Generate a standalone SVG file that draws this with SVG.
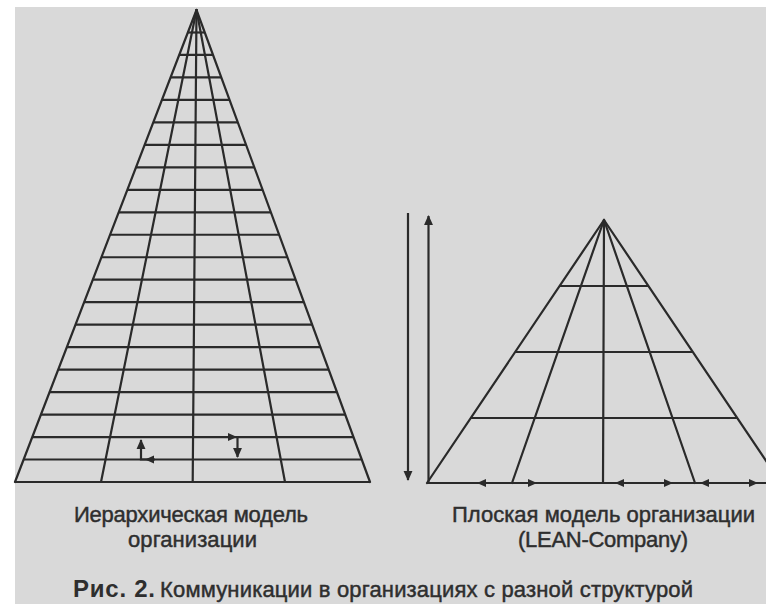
<svg xmlns="http://www.w3.org/2000/svg" width="766" height="604" viewBox="0 0 766 604">
  <style>
    .ln { stroke: #2a2a2a; stroke-width: 2.2; fill: none; stroke-linecap: round; }
    .hl { stroke: #2a2a2a; stroke-width: 2.2; fill: none; }
    .ah { fill: #2a2a2a; stroke: none; }
    .lbl { font-family: "Liberation Sans", Arial, sans-serif; font-size: 22px; fill: #2e2e2e; stroke: #2e2e2e; stroke-width: 0.45; }
    .cap { font-family: "Liberation Sans", Arial, sans-serif; font-size: 22px; fill: #2e2e2e; stroke: #2e2e2e; stroke-width: 0.45; }
    .capb { font-family: "Liberation Sans", Arial, sans-serif; font-size: 24px; font-weight: bold; fill: #2e2e2e; }
  </style>
  <defs>
    <marker id="arr" viewBox="0 0 10 10" refX="9" refY="5" markerWidth="4.5" markerHeight="4.5" orient="auto" markerUnits="strokeWidth">
      <path d="M0,0.5 L10,5 L0,9.5 Z" fill="#2a2a2a"/>
    </marker>
    <path id="head" d="M0,0 L-9,-4 L-9,4 Z"/>
  </defs>

  <rect x="0" y="0" width="766" height="604" fill="#ffffff"/>
  <rect x="15" y="7" width="751" height="597" fill="#d9d9d9"/>

  <g id="hierarchy-pyramid">
    <line class="ln" x1="196.5" y1="10" x2="15" y2="482"/>
    <line class="ln" x1="196.5" y1="10" x2="370" y2="482"/>
    <line class="ln" x1="196.5" y1="10" x2="101" y2="482"/>
    <line class="ln" x1="196.5" y1="10" x2="192.7" y2="482"/>
    <line class="ln" x1="196.5" y1="10" x2="285" y2="482"/>
    <line class="hl" x1="187.86" y1="32.5" x2="204.76" y2="32.5"/>
    <line class="hl" x1="179.22" y1="54.95" x2="213.02" y2="54.95"/>
    <line class="hl" x1="170.57" y1="77.43" x2="221.29" y2="77.43"/>
    <line class="hl" x1="161.93" y1="99.9" x2="229.55" y2="99.9"/>
    <line class="hl" x1="153.29" y1="122.38" x2="237.81" y2="122.38"/>
    <line class="hl" x1="144.65" y1="144.85" x2="246.07" y2="144.85"/>
    <line class="hl" x1="136.0" y1="167.33" x2="254.33" y2="167.33"/>
    <line class="hl" x1="127.36" y1="189.8" x2="262.59" y2="189.8"/>
    <line class="hl" x1="118.72" y1="212.28" x2="270.85" y2="212.28"/>
    <line class="hl" x1="110.08" y1="234.75" x2="279.11" y2="234.75"/>
    <line class="hl" x1="101.43" y1="257.23" x2="287.38" y2="257.23"/>
    <line class="hl" x1="92.79" y1="279.7" x2="295.64" y2="279.7"/>
    <line class="hl" x1="84.15" y1="302.18" x2="303.9" y2="302.18"/>
    <line class="hl" x1="75.51" y1="324.65" x2="312.16" y2="324.65"/>
    <line class="hl" x1="66.86" y1="347.13" x2="320.42" y2="347.13"/>
    <line class="hl" x1="58.22" y1="369.6" x2="328.68" y2="369.6"/>
    <line class="hl" x1="49.58" y1="392.08" x2="336.95" y2="392.08"/>
    <line class="hl" x1="40.94" y1="414.55" x2="345.21" y2="414.55"/>
    <line class="hl" x1="32.29" y1="437.03" x2="353.47" y2="437.03"/>
    <line class="hl" x1="23.65" y1="459.5" x2="361.73" y2="459.5"/>
    <line class="hl" x1="15" y1="482" x2="370" y2="482"/>
  </g>

  <g id="lean-pyramid">
    <line class="ln" x1="604" y1="220" x2="427" y2="483"/>
    <line class="ln" x1="604" y1="220" x2="781" y2="483"/>
    <line class="ln" x1="604" y1="220" x2="512" y2="483"/>
    <line class="ln" x1="604" y1="220" x2="603" y2="483"/>
    <line class="ln" x1="604" y1="220" x2="695" y2="483"/>
    <line class="hl" x1="559.6" y1="286" x2="648.4" y2="286"/>
    <line class="hl" x1="515.2" y1="352" x2="692.8" y2="352"/>
    <line class="hl" x1="470.7" y1="418" x2="737.3" y2="418"/>
    <line class="hl" x1="427" y1="483" x2="770" y2="483"/>
  </g>

  <g id="connectors">
    <path class="hl" d="M155,459.5 L141,459.5 L141,440" marker-end="url(#arr)"/>
    <use href="#head" class="ah" transform="translate(145,459.5) rotate(180)"/>
    <path class="hl" d="M228,437 L237.5,437 L237.5,457" marker-end="url(#arr)"/>
    <use href="#head" class="ah" transform="translate(237,437)"/>
    <line class="hl" x1="408" y1="213" x2="408" y2="480" marker-end="url(#arr)"/>
    <line class="hl" x1="428.5" y1="483" x2="428.5" y2="216" marker-end="url(#arr)"/>
    <use href="#head" class="ah" transform="translate(477,483) rotate(180)"/>
    <use href="#head" class="ah" transform="translate(537,483)"/>
    <use href="#head" class="ah" transform="translate(615,483) rotate(180)"/>
    <use href="#head" class="ah" transform="translate(673,483)"/>
    <use href="#head" class="ah" transform="translate(700,483) rotate(180)"/>
    <use href="#head" class="ah" transform="translate(758,483)"/>
  </g>

  <g id="labels">
    <text class="lbl" x="74" y="522" textLength="234" lengthAdjust="spacing">Иерархическая модель</text>
    <text class="lbl" x="128" y="547" textLength="129" lengthAdjust="spacing">организации</text>
    <text class="lbl" x="452" y="522" textLength="303" lengthAdjust="spacing">Плоская модель организации</text>
    <text class="lbl" x="518" y="547" textLength="170" lengthAdjust="spacing">(LEAN-Company)</text>
  </g>

  <g id="caption">
    <text class="capb" x="73" y="597" textLength="82" lengthAdjust="spacing">Рис. 2.</text>
    <text class="cap" x="160" y="597" textLength="533" lengthAdjust="spacing">Коммуникации в организациях с разной структурой</text>
  </g>
</svg>
